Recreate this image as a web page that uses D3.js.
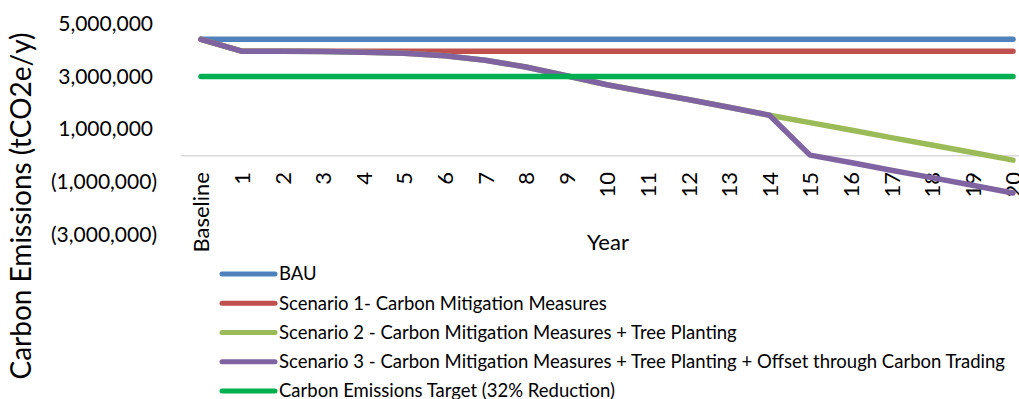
<!DOCTYPE html>
<html>
<head>
<meta charset="utf-8">
<script src="https://cdn.jsdelivr.net/npm/d3@7"></script>
<style>
  html, body { margin: 0; padding: 0; background: #fff; }
  svg { display: block; }
  text { font-family: Lato, "Open Sans", sans-serif; fill: #000; }
</style>
</head>
<body>
<svg id="chart" width="1019" height="399"></svg>
<script>
const categories = ["Baseline","1","2","3","4","5","6","7","8","9","10","11","12","13","14","15","16","17","18","19","20"];

const bau       = [4400000,4400000,4400000,4400000,4400000,4400000,4400000,4400000,4400000,4400000,4400000,4400000,4400000,4400000,4400000,4400000,4400000,4400000,4400000,4400000,4400000];
const scenario1 = [4400000,3950000,3950000,3950000,3950000,3950000,3950000,3950000,3950000,3950000,3950000,3950000,3950000,3950000,3950000,3950000,3950000,3950000,3950000,3950000,3950000];
const scenario2 = [4400000,3950000,3950000,3940000,3910000,3870000,3780000,3610000,3350000,3020000,2680000,2400000,2120000,1830000,1530000,1250000,970000,680000,400000,120000,-170000];
const scenario3 = [4400000,3950000,3950000,3940000,3910000,3870000,3780000,3610000,3350000,3020000,2680000,2400000,2120000,1830000,1530000,20000,-260000,-550000,-830000,-1120000,-1410000];
const target    = [2990000,2990000,2990000,2990000,2990000,2990000,2990000,2990000,2990000,2990000,2990000,2990000,2990000,2990000,2990000,2990000,2990000,2990000,2990000,2990000,2990000];

const seriesNames = [
  "BAU",
  "Scenario 1- Carbon Mitigation Measures",
  "Scenario 2 - Carbon Mitigation Measures + Tree Planting",
  "Scenario 3 - Carbon Mitigation Measures + Tree Planting + Offset through Carbon Trading",
  "Carbon Emissions Target (32% Reduction)"
];
const seriesColors = ["#4F81BD", "#C0504D", "#9BBB59", "#8064A2", "#00B050"];
const yTicks = [-3000000, -1000000, 1000000, 3000000, 5000000];
const yTitle = "Carbon Emissions (tCO2e/y)";
const xTitle = "Year";

const seriesValues = [bau, scenario1, scenario2, scenario3, target];

const svg = d3.select("#chart");

const x = d3.scalePoint().domain(categories).range([201, 1013]);
const y = d3.scaleLinear().domain([-3000000, 5000000]).range([235, 23.4]);

// zero gridline
svg.append("line")
  .attr("x1", 181).attr("x2", 1019)
  .attr("y1", y(0)).attr("y2", y(0))
  .attr("stroke", "#d9d9d9").attr("stroke-width", 1.5);

// y axis labels
const fmt = d3.format(",");
const yAxis = d3.axisLeft(y).tickValues(yTicks).tickSize(0).tickPadding(0)
  .tickFormat(d => d < 0 ? "(" + fmt(-d) + ")" : fmt(d));
const gy = svg.append("g").attr("transform", "translate(157,0)").call(yAxis);
gy.select(".domain").remove();
gy.selectAll("text")
  .attr("font-size", 21)
  .style("font-family", "Lato, sans-serif")
  .attr("fill", "#000")
  .attr("x", d => d < 0 ? 0 : -4);

// x axis labels (rotated)
const xAxis = d3.axisBottom(x).tickSize(0).tickPadding(0);
const gx = svg.append("g").call(xAxis);
gx.select(".domain").remove();
gx.selectAll(".tick text")
  .attr("font-size", 22)
  .style("font-family", "Lato, sans-serif")
  .attr("fill", "#000")
  .attr("text-anchor", "end")
  .attr("transform", "translate(0,172) rotate(-90)")
  .attr("x", 0).attr("y", 0).attr("dy", "0.36em");

// axis titles
svg.append("text")
  .attr("transform", "translate(31,206) rotate(-90)")
  .attr("text-anchor", "middle")
  .attr("font-size", 28)
  .text(yTitle);

svg.append("text")
  .attr("x", 608).attr("y", 250)
  .attr("text-anchor", "middle")
  .attr("font-size", 22)
  .text(xTitle);

// series lines
const line = d3.line()
  .x((d, i) => x(categories[i]))
  .y(d => y(d));

svg.append("g").selectAll("path")
  .data(seriesValues)
  .join("path")
  .attr("d", d => line(d))
  .attr("fill", "none")
  .attr("stroke", (d, i) => seriesColors[i])
  .attr("stroke-width", 5.5)
  .attr("stroke-linecap", "round")
  .attr("stroke-linejoin", "round");

// legend
const legend = svg.append("g");
const rowY = d3.scalePoint().domain(d3.range(seriesNames.length)).range([274, 391]);
const items = legend.selectAll("g").data(seriesNames).join("g")
  .attr("transform", (d, i) => `translate(0,${rowY(i)})`);
items.append("line")
  .attr("x1", 222).attr("x2", 275)
  .attr("y1", 0).attr("y2", 0)
  .attr("stroke", (d, i) => seriesColors[i])
  .attr("stroke-width", 5)
  .attr("stroke-linecap", "round");
items.append("text")
  .attr("x", 279).attr("y", 0).attr("dy", "0.35em")
  .attr("font-size", 18.5)
  .text(d => d);
</script>
</body>
</html>
